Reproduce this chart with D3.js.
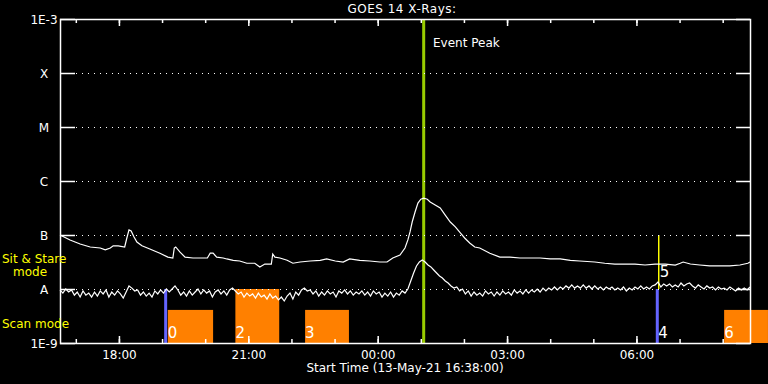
<!DOCTYPE html>
<html>
<head>
<meta charset="utf-8">
<script src="https://cdn.jsdelivr.net/npm/d3@7"></script>
<style>
  body { margin: 0; background: #000; }
  svg { display: block; font-family: "DejaVu Sans", sans-serif; }
  text { fill: #fff; }
</style>
</head>
<body>
<svg id="chart" width="768" height="384"></svg>
<script>
// time window of the plot
const startTime = new Date(Date.UTC(2021, 4, 13, 16, 38));
const endTime = new Date(Date.UTC(2021, 4, 14, 8, 38));

// y axis decades and their labels
const decadeValues = [1e-9, 1e-8, 1e-7, 1e-6, 1e-5, 1e-4, 1e-3];
const decadeLabels = ['1E-9', 'A', 'B', 'C', 'M', 'X', '1E-3'];

// 1-8 A channel: minutes after start, flux in W/m^2
const longMinutes = [0, 14, 28, 42, 56, 63, 70, 74, 81, 90, 93, 96, 99, 103, 107, 114, 125, 139, 150, 157,
  159, 161, 167, 174, 185, 195, 205, 209, 213, 218, 227, 232, 241, 250, 260, 271, 278, 285, 294, 296,
  299, 306, 316, 324, 334, 348, 362, 371, 383, 394, 403, 417, 431, 445, 455, 463, 473, 480, 484, 487,
  490, 494, 498, 502, 506, 511, 515, 522, 529, 536, 543, 550, 557, 563, 570, 577, 584, 598, 612, 626,
  640, 654, 668, 682, 696, 710, 723, 744, 758, 772, 786, 800, 814, 828, 842, 856, 863, 867, 877, 890,
  904, 918, 932, 946, 957, 960];
const longFlux = [1.0e-7, 8.1e-8, 6.8e-8, 6.0e-8, 5.75e-8, 5.3e-8, 5.75e-8, 6.3e-8, 6.3e-8, 6.0e-8,
  8.8e-8, 1.24e-7, 1.19e-7, 9.2e-8, 7.4e-8, 6.3e-8, 5.5e-8, 4.6e-8, 3.9e-8, 3.75e-8,
  5.75e-8, 6.0e-8, 4.8e-8, 3.9e-8, 3.75e-8, 3.75e-8, 3.75e-8, 4.6e-8, 4.6e-8, 3.9e-8,
  3.75e-8, 3.6e-8, 3.4e-8, 3.3e-8, 3.0e-8, 3.0e-8, 2.56e-8, 2.9e-8, 2.9e-8, 4.45e-8,
  3.9e-8, 3.75e-8, 3.4e-8, 3.0e-8, 3.16e-8, 3.3e-8, 3.4e-8, 3.6e-8, 3.3e-8, 3.16e-8,
  3.6e-8, 3.4e-8, 3.3e-8, 3.16e-8, 3.16e-8, 3.75e-8, 4.26e-8, 5.75e-8, 8.1e-8, 1.14e-7,
  1.74e-7, 2.67e-7, 3.9e-7, 4.6e-7, 4.8e-7, 4.6e-7, 4.1e-7, 3.6e-7, 3.16e-7, 2.34e-7,
  1.74e-7, 1.41e-7, 1.09e-7, 8.8e-8, 7.1e-8, 6.0e-8, 5.75e-8, 4.6e-8, 3.9e-8, 3.9e-8,
  3.75e-8, 3.75e-8, 3.75e-8, 3.6e-8, 3.6e-8, 3.4e-8, 3.3e-8, 3.16e-8, 3.0e-8, 2.9e-8,
  2.9e-8, 2.9e-8, 2.78e-8, 2.9e-8, 2.9e-8, 2.78e-8, 3.0e-8, 3.16e-8, 2.9e-8, 2.78e-8,
  2.67e-8, 2.67e-8, 2.67e-8, 2.78e-8, 3.0e-8, 3.16e-8];

// 0.5-4 A channel: one sample every 4 minutes, flux in units of 1E-9 W/m^2
const shortStep = 4;
const shortFlux = [9.6, 8.4, 10.0, 8.8, 9.6, 7.7, 8.8, 7.1, 9.2, 7.7, 8.4, 7.1, 8.8, 7.4, 9.2, 8.1, 9.6, 7.1, 8.8, 7.7,
  9.2, 8.1, 6.8, 8.8, 11.4, 10.4, 9.2, 9.6, 7.7, 8.8, 7.4, 8.4, 7.1, 9.2, 8.1, 9.6, 8.4, 10.0, 8.8, 10.0,
  11.4, 9.6, 7.7, 8.8, 7.4, 9.2, 7.7, 8.8, 10.0, 8.1, 9.6, 8.4, 9.2, 7.1, 8.8, 9.6, 8.1, 9.2, 7.7, 9.6,
  10.4, 9.2, 8.1, 8.8, 7.1, 8.4, 7.4, 8.1, 6.8, 8.4, 7.1, 7.7, 6.5, 8.1, 6.8, 7.4, 6.3, 7.1, 6.0, 7.4,
  8.4, 6.5, 8.8, 7.7, 9.6, 10.4, 9.2, 9.6, 8.1, 9.2, 7.4, 8.8, 7.7, 9.2, 8.1, 8.8, 7.1, 9.2, 8.4, 9.6,
  8.1, 9.2, 7.7, 8.8, 8.1, 9.2, 7.7, 8.8, 7.4, 9.2, 8.1, 8.8, 7.1, 8.4, 7.4, 8.8, 7.1, 8.4, 7.7, 9.2,
  8.4, 10.0, 14.1, 19.8, 26.7, 31.6, 34.4, 31.6, 27.8, 25.6, 22.5, 19.8, 17.4, 16.0, 14.1, 12.9, 11.4, 10.4, 10.9, 9.2,
  10.0, 8.1, 9.2, 7.4, 8.8, 7.7, 8.4, 7.4, 9.2, 8.1, 8.8, 7.4, 8.8, 7.7, 9.2, 8.1, 8.8, 7.7, 9.6, 8.4,
  9.2, 8.1, 9.6, 8.4, 9.6, 8.8, 10.0, 8.8, 10.4, 9.2, 10.4, 9.6, 10.9, 9.6, 10.9, 10.0, 11.4, 10.4, 11.9, 10.4,
  11.4, 10.4, 11.9, 10.4, 11.4, 10.0, 11.4, 10.0, 10.9, 9.6, 10.9, 10.0, 10.9, 9.6, 10.4, 9.6, 10.9, 9.2, 10.4, 9.6,
  10.9, 10.0, 11.4, 10.0, 10.9, 10.0, 11.4, 11.9, 13.5, 10.9, 12.4, 11.4, 12.4, 10.9, 11.9, 10.9, 12.9, 11.4, 12.4, 12.9,
  11.4, 10.4, 11.9, 10.9, 10.0, 11.4, 10.4, 10.9, 9.6, 10.9, 10.0, 10.4, 9.6, 10.9, 10.0, 9.2, 10.4, 9.6, 10.4, 9.6,
  10.9];

// observation boxes (orange)
const obsLabels = ['0', '2', '3', '6'];
const obsStart = ['2021-05-13T19:08', '2021-05-13T20:42', '2021-05-13T22:19', '2021-05-14T08:02'];
const obsEnd = ['2021-05-13T20:11', '2021-05-13T21:43', '2021-05-13T23:20', '2021-05-14T09:03'];
const obsTop = [4.1e-9, 1e-8, 4.1e-9, 4.1e-9];

// pointing markers (vertical lines with a number)
const markLabels = ['0', '4', '5'];
const markTimes = ['2021-05-13T19:05', '2021-05-14T06:29', '2021-05-14T06:31'];
const markLow = [1e-9, 1e-9, 1e-8];
const markHigh = [1e-8, 1e-8, 1e-7];
const markColors = ['#6464ff', '#6464ff', '#ffff00'];

const peakTime = '2021-05-14T01:04';

const svg = d3.select('#chart');
const plotL = 60, plotR = 750, plotT = 19, plotB = 343;
const fontSize = 12;

svg.append('rect').attr('width', 768).attr('height', 384).attr('fill', '#000');

const x = d3.scaleUtc().domain([startTime, endTime]).range([plotL, plotR]);
const y = d3.scaleLog().domain([1e-9, 1e-3]).range([plotB, plotT]);
const t = s => new Date(s + 'Z');

// orange boxes
svg.selectAll('rect.obs')
  .data(obsLabels)
  .enter()
  .append('rect')
  .attr('class', 'obs')
  .attr('x', (d, i) => x(t(obsStart[i])))
  .attr('width', (d, i) => x(t(obsEnd[i])) - x(t(obsStart[i])))
  .attr('y', (d, i) => y(obsTop[i]))
  .attr('height', (d, i) => plotB - y(obsTop[i]))
  .attr('fill', '#ff8000');

// marker lines
svg.selectAll('line.mark')
  .data(markLabels)
  .enter()
  .append('line')
  .attr('x1', (d, i) => x(t(markTimes[i])))
  .attr('x2', (d, i) => x(t(markTimes[i])))
  .attr('y1', (d, i) => y(markLow[i]))
  .attr('y2', (d, i) => y(markHigh[i]))
  .attr('stroke', (d, i) => markColors[i])
  .attr('stroke-width', (d, i) => markColors[i] === '#ffff00' ? 1.5 : 3);

// event peak
svg.append('line')
  .attr('x1', x(t(peakTime))).attr('x2', x(t(peakTime)))
  .attr('y1', plotT).attr('y2', plotB)
  .attr('stroke', '#99cc00')
  .attr('stroke-width', 3);

// dotted grid at the class levels
const inner = decadeValues.slice(1, -1);
svg.selectAll('line.grid')
  .data(inner)
  .enter()
  .append('line')
  .attr('x1', plotL + 16).attr('x2', plotR - 14)
  .attr('y1', d => Math.round(y(d)) + 0.5).attr('y2', d => Math.round(y(d)) + 0.5)
  .attr('stroke', '#fff')
  .attr('stroke-dasharray', '1,5');

// curves
const longLine = d3.line()
  .x((d, i) => x(new Date(startTime.getTime() + longMinutes[i] * 60000)))
  .y(d => y(d));
svg.append('path')
  .datum(longFlux)
  .attr('d', longLine)
  .attr('fill', 'none')
  .attr('stroke', '#fff')
  .attr('stroke-width', 1.2);

const shortLine = d3.line()
  .x((d, i) => x(new Date(startTime.getTime() + i * shortStep * 60000)))
  .y(d => y(d * 1e-9));
svg.append('path')
  .datum(shortFlux)
  .attr('d', shortLine)
  .attr('fill', 'none')
  .attr('stroke', '#fff')
  .attr('stroke-width', 1.2);

// frame
svg.append('rect')
  .attr('x', plotL + 0.5).attr('y', plotT + 0.5)
  .attr('width', plotR - plotL).attr('height', plotB - plotT)
  .attr('fill', 'none')
  .attr('stroke', '#fff')
  .attr('stroke-width', 1.5);

// time axes (ticks point inward)
const hours = d3.utcHour.every(1).range(startTime, endTime);
const majors = hours.filter(d => d.getUTCHours() % 3 === 0);

function timeAxis(gen, yPos, dir) {
  const gMinor = svg.append('g').attr('transform', `translate(0,${yPos})`)
    .call(gen(x).tickValues(hours).tickSize(-4).tickFormat(''));
  const gMajor = svg.append('g').attr('transform', `translate(0,${yPos})`)
    .call(gen(x).tickValues(majors).tickSize(-7).tickPadding(7)
      .tickFormat(dir > 0 ? d3.utcFormat('%H:%M') : ''));
  [gMinor, gMajor].forEach(g => {
    g.select('.domain').remove();
    g.selectAll('line').attr('stroke', '#fff').attr('stroke-width', 1.5);
    g.selectAll('text').attr('fill', '#fff').attr('font-size', fontSize)
      .attr('font-family', '"DejaVu Sans", sans-serif');
  });
}
timeAxis(d3.axisBottom, plotB, 1);
timeAxis(d3.axisTop, plotT, -1);

// class axes
function classAxis(gen, xPos, len) {
  const g = svg.append('g').attr('transform', `translate(${xPos},0)`)
    .call(gen(y).tickValues(decadeValues).tickSize(-len).tickFormat(''));
  g.select('.domain').remove();
  g.selectAll('line').attr('stroke', '#fff').attr('stroke-width', 1.5);
}
classAxis(d3.axisLeft, plotL, 15);
classAxis(d3.axisRight, plotR, 14);

svg.selectAll('text.cls')
  .data(decadeLabels)
  .enter()
  .append('text')
  .attr('x', 44)
  .attr('y', (d, i) => y(decadeValues[i]) + 4.5)
  .attr('text-anchor', 'middle')
  .attr('font-size', fontSize)
  .text(d => d);

// numbers for boxes and markers
svg.selectAll('text.obs')
  .data(obsLabels)
  .enter()
  .append('text')
  .attr('x', (d, i) => x(t(obsStart[i])))
  .attr('y', plotB - 5)
  .attr('font-size', 15)
  .text(d => d);

svg.selectAll('text.mark')
  .data(markLabels.slice(1))
  .enter()
  .append('text')
  .attr('x', (d, i) => x(t(markTimes[i + 1])) + 1)
  .attr('y', (d, i) => markLow[i + 1] === 1e-9 ? plotB - 5 : y(markLow[i + 1]) - 12)
  .attr('font-size', 15)
  .text(d => d);

// titles and side labels
svg.append('text').attr('x', 402).attr('y', 13).attr('text-anchor', 'middle')
  .attr('font-size', fontSize).attr('letter-spacing', 0.5).text('GOES 14 X-Rays:');
svg.append('text').attr('x', 405).attr('y', 372).attr('text-anchor', 'middle')
  .attr('font-size', fontSize).text('Start Time (13-May-21 16:38:00)');
svg.append('text').attr('x', 433).attr('y', 47)
  .attr('font-size', fontSize).text('Event Peak');

const yellow = svg.append('g').attr('font-size', fontSize);
yellow.append('text').attr('x', 2).attr('y', 263).style('fill', '#ffff00').text('Sit & Stare');
yellow.append('text').attr('x', 13).attr('y', 276).style('fill', '#ffff00').text('mode');
yellow.append('text').attr('x', 2).attr('y', 328).style('fill', '#ffff00').text('Scan mode');
</script>
</body>
</html>
